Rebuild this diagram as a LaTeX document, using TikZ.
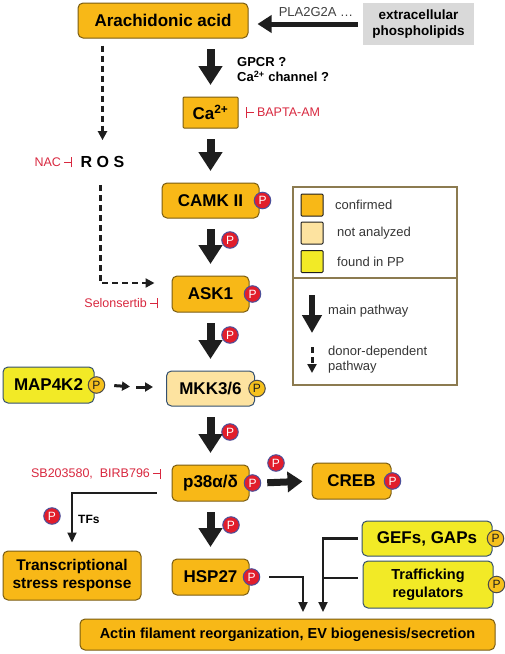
\documentclass[tikz,border=0pt]{standalone}
\usepackage{fontspec}
\setmainfont{Liberation Sans}
\usetikzlibrary{arrows.meta,positioning}

\definecolor{boxorange}{HTML}{F8B817}
\definecolor{boxedge}{HTML}{7A5C12}
\definecolor{boxlight}{HTML}{FDE3A0}
\definecolor{boxyellow}{HTML}{F2EA26}
\definecolor{blueedge}{HTML}{34506F}
\definecolor{boxgray}{HTML}{D9D9D9}
\definecolor{inhred}{HTML}{D8283F}
\definecolor{pred}{HTML}{E11D2B}
\definecolor{predge}{HTML}{4B4F9A}
\definecolor{pyellow}{HTML}{F6C11C}
\definecolor{legedge}{HTML}{8C7B50}
\definecolor{arrowblack}{HTML}{1E1E1E}

% inhibitor bars
\newcommand{\inhright}{\rule[0.28em]{0.55em}{0.08em}\rule[-0.1em]{0.08em}{0.85em}}
\newcommand{\inhleft}{\rule[-0.1em]{0.08em}{0.85em}\rule[0.28em]{0.55em}{0.08em}}

\begin{document}
\begin{tikzpicture}[x=1pt,y=-1pt,
    box/.style={draw=boxedge,fill=boxorange,rounded corners=5pt,line width=1pt,
      inner sep=0pt,font=\fontsize{17}{20}\selectfont\bfseries},
    ybox/.style={box,draw=blueedge,fill=boxyellow},
    lbox/.style={box,draw=blueedge,fill=boxlight},
    pbadge/.style={circle,minimum size=16.5pt,inner sep=0pt,line width=1pt,
      font=\fontsize{12}{12}\selectfont},
    pr/.style={pbadge,draw=predge,fill=pred,text=white},
    py/.style={pbadge,draw=arrowblack!80,fill=pyellow,text=arrowblack},
    inh/.style={inner sep=0pt,text=inhred,font=\fontsize{12.5}{14}\selectfont},
    swatch/.style={draw=arrowblack,line width=1pt,rounded corners=1pt,minimum size=22pt,inner sep=0pt},
    legtext/.style={anchor=west,inner sep=0pt,text=arrowblack!90,font=\fontsize{13}{15}\selectfont},
    bigarrow/.style={draw=arrowblack,line width=8pt,-{Triangle[width=23pt,length=19pt]},
      shorten <=10.5pt,shorten >=11.5pt},
    medarrow/.style={draw=arrowblack,line width=5pt,-{Triangle[width=17pt,length=14pt]}},
    thinarrow/.style={draw=arrowblack,line width=2.2pt,-{Triangle[width=9pt,length=10pt]}},
    thinline/.style={draw=arrowblack,line width=2.2pt},
    dasharrow/.style={draw=arrowblack,line width=2.8pt,dash pattern=on 6pt off 4pt,
      -{Triangle[width=9pt,length=9pt]}},
    smallarrow/.style={draw=arrowblack,line width=3pt,-{Triangle[width=9pt,length=8pt]}}]
  \useasboundingbox (0,0) rectangle (505,654);

  % boxes of the main column
  \node[box,minimum width=170pt,minimum height=35pt] (aa) at (163,20.5) {Arachidonic acid};
  \node[fill=boxgray,minimum width=111pt,minimum height=42pt,inner sep=0pt,align=center,
    font=\fontsize{13.5}{16}\selectfont\bfseries] (epl) at (418.5,24) {extracellular\\phospholipids};
  \node[box,rounded corners=1pt,minimum width=55pt,minimum height=31pt] (ca) at (210.5,112.5) {Ca\textsuperscript{2+}};
  \node[box,minimum width=97pt,minimum height=35pt] (camk) at (210.5,200.5) {CAMK II};
  \node[box,minimum width=77pt,minimum height=36pt] (ask) at (210.5,294) {ASK1};
  \node[lbox,minimum width=88pt,minimum height=35pt] (mkk) at (210.5,388.5) {MKK3/6};
  \node[ybox,minimum width=91pt,minimum height=36pt] (map) at (48.5,385) {MAP4K2};
  \node[box,minimum width=77pt,minimum height=36pt] (p38) at (210.5,483) {p38α/δ};
  \node[box,minimum width=79pt,minimum height=36pt] (creb) at (351.5,481) {CREB};
  \node[box,minimum width=138pt,minimum height=49pt,align=center,
    font=\fontsize{15.5}{18}\selectfont\bfseries] (tsr) at (72,575.5) {Transcriptional\\stress response};
  \node[box,minimum width=77pt,minimum height=36pt] (hsp) at (210.5,577) {HSP27};
  \node[ybox,minimum width=130pt,minimum height=35pt] (gef) at (427,538.5) {GEFs, GAPs};
  \node[ybox,minimum width=130pt,minimum height=47pt,align=center,
    font=\fontsize{14.5}{18}\selectfont\bfseries] (traf) at (428,584.5) {Trafficking\\regulators};
  \node[box,minimum width=415pt,minimum height=31pt,
    font=\fontsize{14.5}{17}\selectfont\bfseries] (actin) at (287.5,634.5) {Actin filament reorganization, EV biogenesis/secretion};

  % phosphorylation badges on boxes
  \node[pr] (pcamk) at ([xshift=3pt]camk.east) {P};
  \node[pr] (pask) at ([xshift=3pt]ask.east) {P};
  \node[py] (pmkk) at ([xshift=2pt]mkk.east) {P};
  \node[py] (pmap) at ([xshift=2pt]map.east) {P};
  \node[pr] (pp38) at ([xshift=3pt]p38.east) {P};
  \node[pr] (pcreb) at ([xshift=1pt]creb.east) {P};
  \node[pr] (phsp) at ([xshift=2pt]hsp.east) {P};
  \node[py] (pgef) at ([xshift=3pt]gef.east) {P};
  \node[py] (ptraf) at ([xshift=3pt]traf.east) {P};

  % labels
  \node[inner sep=0pt,text=arrowblack!85,font=\fontsize{13}{15}\selectfont] (pla) at (316,12) {PLA2G2A …};
  \node[anchor=west,inner sep=0pt,align=left,font=\fontsize{13}{15.5}\selectfont\bfseries] (gpcr) at (237,69.5) {GPCR ?\\Ca\textsuperscript{2+} channel ?};
  \node[inh,right=7pt of ca] (bapta) {\inhleft\ BAPTA-AM};
  \node[inner sep=0pt,font=\fontsize{16}{18}\selectfont\bfseries] (ros) at (102.5,162) {R O S};
  \node[inh,left=8pt of ros] (nac) {NAC \inhright};
  \node[inh,left=13pt of ask,yshift=-9pt] (selon) {Selonsertib \inhright};
  \node[inh,left=10pt of p38,yshift=9pt] (sb) {SB203580,\ \ BIRB796 \inhright};
  \node[anchor=west,inner sep=0pt,font=\fontsize{12}{14}\selectfont\bfseries] (tfs) at (78,519) {TFs};

  % badges beside the arrows
  \node[pr] (pa1) at (230,240) {P};
  \node[pr] (pa2) at (230,335) {P};
  \node[pr] (pa3) at (230,432) {P};
  \node[pr] (pa4) at (231,525) {P};
  \node[pr] (pa5) at (276,463) {P};
  \node[pr] (pa6) at (52,516) {P};

  % main pathway
  \draw[medarrow,shorten <=5pt,shorten >=9pt] (epl.west) -- (epl.west -| aa.east);
  \draw[bigarrow] (aa.south -| ca) -- (ca.north);
  \draw[bigarrow] (ca.south) -- (camk.north);
  \draw[bigarrow] (camk.south) -- (ask.north);
  \draw[bigarrow] (ask.south) -- (mkk.north);
  \draw[bigarrow] (mkk.south) -- (p38.north);
  \draw[bigarrow] (p38.south) -- (hsp.north);
  \draw[draw=arrowblack,line width=7pt,-{Triangle[width=20pt,length=15pt]},
    shorten <=6pt,shorten >=9pt] (pp38.east) -- (creb.west);

  % donor-dependent branch
  \draw[dasharrow,shorten <=7pt,shorten >=16pt] (aa.south -| ros) -- (ros.north);
  \draw[dasharrow,shorten <=17pt,shorten >=17pt] ([xshift=-2pt]ros.south) |- ([yshift=11pt]ask.west);

  % MAP4K2 to MKK3/6
  \coordinate (mapmid) at (135.5,387);
  \draw[smallarrow,shorten <=9pt,shorten >=5.5pt] (pmap.east) -- (mapmid);
  \draw[smallarrow,shorten <=0.5pt,shorten >=13pt] (mapmid) -- (mkk.west |- mapmid);

  % transcription factors
  \draw[thinarrow,shorten <=15pt,shorten >=8pt] ([yshift=-10pt]p38.west) -| (tsr.north);

  % into actin box
  \coordinate (inA) at (303,619);
  \coordinate (inB) at (323,619);
  \draw[thinarrow,shorten <=9pt,shorten >=7pt] (phsp.east) -| (inA);
  \draw[thinarrow,shorten <=4pt,shorten >=7pt] (gef.west) -| (inB);
  \draw[thinline,shorten <=5pt] ([yshift=6.5pt]traf.west) -- ([yshift=6.5pt]traf.west -| inB);

  % legend
  \draw[draw=legedge,line width=1.3pt] (293,187) rectangle (457,385);
  \draw[draw=legedge,line width=1.3pt] (293,278) -- (457,278);
  \node[swatch,fill=boxorange] (swA) at (312,205) {};
  \node[swatch,fill=boxlight] (swB) at (312,233) {};
  \node[swatch,fill=boxyellow] (swC) at (312,261.5) {};
  \node[legtext] (lgA) at (335,205) {confirmed};
  \node[legtext] (lgB) at (337,233) {not analyzed};
  \node[legtext] (lgC) at (337,262) {found in PP};
  \coordinate (lmA) at (312,295);
  \coordinate (lmB) at (312,333);
  \draw[draw=arrowblack,line width=6pt,-{Triangle[width=19pt,length=18pt]}] (lmA) -- (lmB);
  \node[legtext] (lgD) at (328,311) {main pathway};
  \coordinate (ldA) at (312,347);
  \coordinate (ldB) at (312,373);
  \draw[draw=arrowblack,line width=3pt,dash pattern=on 6pt off 4pt,
    -{Triangle[width=9pt,length=9pt]}] (ldA) -- (ldB);
  \node[legtext,align=left] (lgE) at (328,359.5) {donor-dependent\\pathway};
\end{tikzpicture}
\end{document}
